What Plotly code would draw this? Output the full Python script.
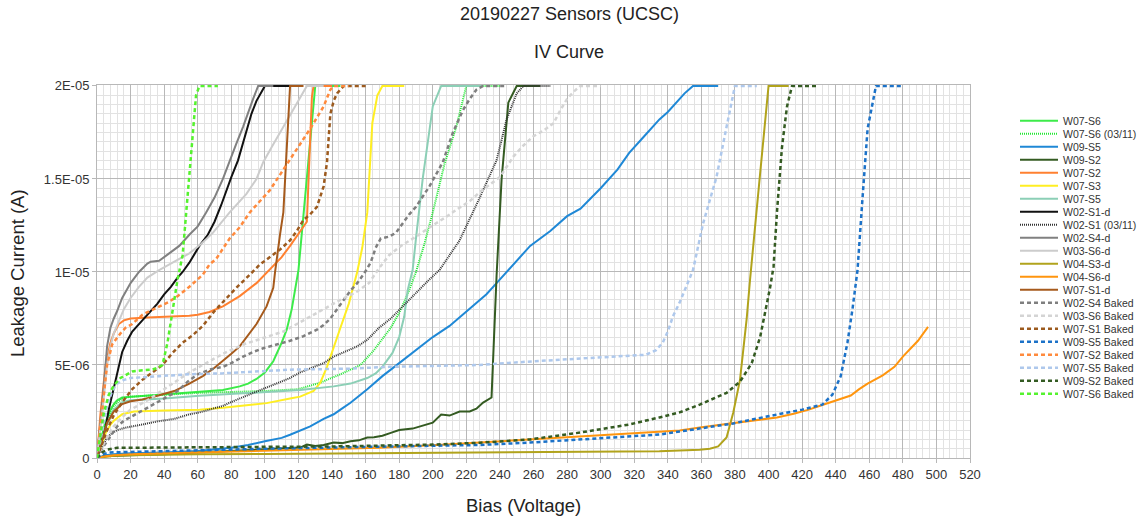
import numpy as np
import plotly.graph_objects as go

# ---- IV data: bias (V) and leakage current (uA) per sensor ----
w07_s6_v = [0, 2, 5, 8, 10, 12, 15, 30, 45, 60, 75, 85, 90, 95, 100, 105, 110, 113, 116, 120, 125, 130, 145]
w07_s6_i = [0, 0.9, 1.9, 2.6, 2.9, 3.1, 3.25, 3.35, 3.45, 3.55, 3.65, 3.85, 4.0, 4.25, 4.6, 5.2, 6.2, 6.9, 8.0, 10.1, 15.0, 20, 20]

w07_s6_0311_v = [0, 5, 10, 15, 20, 40, 60, 80, 100, 120, 133, 145, 157, 165, 170, 175, 180, 185, 190, 195, 200, 207, 214, 220, 240]
w07_s6_0311_i = [0, 1.8, 2.8, 3.2, 3.3, 3.4, 3.5, 3.55, 3.6, 3.7, 4.05, 4.5, 5.0, 5.8, 6.4, 7.0, 7.8, 8.8, 10.0, 11.5, 13.2, 15.8, 17.8, 20, 20]

w09_s5_v = [0, 5, 10, 20, 40, 60, 80, 90, 100, 110, 115, 120, 127, 135, 141, 145, 151, 161, 170, 180, 190, 200, 210, 216,
            224, 232, 238, 244, 250, 258, 270, 280, 288, 300, 310, 317, 325, 335, 340, 345, 350, 355, 370]
w09_s5_i = [0, 0.15, 0.2, 0.25, 0.3, 0.37, 0.55, 0.7, 0.9, 1.08, 1.25, 1.45, 1.7, 2.1, 2.35, 2.6, 2.97, 3.7, 4.4, 5.1, 5.8, 6.5, 7.1, 7.55,
            8.2, 8.8, 9.4, 10.0, 10.6, 11.4, 12.2, 13.0, 13.4, 14.5, 15.5, 16.4, 17.2, 18.2, 18.6, 19.1, 19.6, 20, 20]

w09_s2_v = [0, 5, 20, 40, 60, 80, 100, 115, 121, 125, 130, 135, 141, 146, 151, 156, 161, 165, 170, 175, 180, 188, 195, 200,
            205, 210, 216, 222, 226, 230, 235, 238, 241, 243, 245, 250, 264]
w09_s2_i = [0, 0.1, 0.15, 0.2, 0.3, 0.38, 0.45, 0.52, 0.56, 0.72, 0.65, 0.7, 0.83, 0.8, 0.9, 0.95, 1.1, 1.12, 1.2, 1.35, 1.5, 1.58, 1.75, 1.9,
            2.34, 2.28, 2.5, 2.5, 2.65, 2.98, 3.25, 9.8, 15.0, 17.3, 19.1, 20, 20]

w07_s2_v = [0, 2, 5, 8, 10, 13, 16, 20, 30, 46, 55, 60, 67, 75, 85, 95, 105, 110, 115, 121, 125, 128, 129, 140]
w07_s2_i = [0, 2.3, 4.9, 6.2, 6.7, 7.2, 7.4, 7.5, 7.55, 7.6, 7.65, 7.7, 7.85, 8.15, 8.7, 9.4, 10.3, 10.8, 11.4, 12.2, 12.7, 19.4, 20, 20]

w07_s3_v = [0, 3, 5, 8, 10, 15, 22, 40, 61, 75, 95, 101, 115, 121, 129, 133, 137, 141, 145, 150, 155, 158, 161, 164, 167, 170, 183]
w07_s3_i = [0, 0.8, 1.3, 1.8, 2.0, 2.35, 2.5, 2.55, 2.6, 2.7, 2.9, 2.95, 3.2, 3.3, 3.6, 4.05, 4.9, 6.0, 7.0, 8.3, 10.0, 11.3, 13.2, 18.0, 19.5, 20, 20]

w07_s5_v = [0, 5, 10, 15, 20, 40, 61, 80, 100, 121, 141, 151, 161, 166, 170, 176, 180, 183, 185, 188, 190, 194, 200, 205, 230]
w07_s5_i = [0, 1.6, 2.6, 3.0, 3.1, 3.2, 3.35, 3.45, 3.55, 3.65, 3.85, 4.0, 4.3, 4.55, 4.9, 5.65, 6.5, 7.6, 9.0, 10.1, 11.8, 15.0, 18.9, 20, 20]

w02_s1_d_v = [0, 3, 5, 7, 9, 11, 13, 15, 18, 21, 25, 29, 33, 36, 40, 44, 48, 51, 55, 61, 66, 70, 74, 77, 80, 84, 89, 92, 95, 100, 121]
w02_s1_d_i = [0, 0.9, 1.6, 2.6, 3.4, 4.1, 4.9, 5.7, 6.3, 6.8, 7.2, 7.6, 8.0, 8.3, 8.8, 9.2, 9.7, 10.0, 10.5, 11.4, 12.0, 12.7, 13.6, 14.4, 15.1, 16.0, 17.5, 18.5, 19.2, 20, 20]

w02_s1_0311_v = [0, 3, 6, 9, 12, 17, 27, 36, 46, 55, 61, 75, 81, 95, 101, 115, 121, 135, 141, 155, 161, 168, 175, 182, 192, 198,
                 204, 216, 228, 233, 238, 244, 250, 254, 270]
w02_s1_0311_i = [0, 0.6, 1.1, 1.35, 1.5, 1.63, 1.8, 1.97, 2.1, 2.35, 2.45, 2.8, 3.05, 3.55, 3.8, 4.3, 4.6, 5.1, 5.45, 6.0, 6.35, 7.0, 7.5, 8.15, 9.05, 9.6,
                 10.1, 11.7, 14.0, 15.0, 16.0, 18.2, 19.6, 20, 20]

w02_s4_d_v = [0, 2, 4, 6, 8, 10, 12, 15, 20, 25, 30, 32, 37, 43, 49, 55, 60, 65, 70, 75, 79, 83, 87, 90, 93, 96, 105]
w02_s4_d_i = [0, 1.8, 3.8, 6.0, 7.0, 7.5, 7.9, 8.6, 9.4, 10.0, 10.45, 10.55, 10.6, 11.0, 11.4, 12.0, 12.45, 13.2, 14.0, 15.0, 16.0, 16.9, 17.8, 18.6, 19.3, 20, 20]

w03_s6_d_v = [0, 2, 4, 6, 8, 10, 13, 16, 20, 25, 30, 37, 45, 55, 62, 69, 79, 89, 95, 99, 104, 109, 114, 119, 125, 135]
w03_s6_d_i = [0, 1.5, 3.2, 5.0, 6.0, 6.7, 7.4, 8.0, 8.6, 9.2, 9.7, 10.1, 10.5, 11.0, 11.5, 12.1, 13.2, 14.2, 15.0, 15.9, 16.7, 17.5, 18.3, 19.1, 20, 20]

w04_s3_d_v = [0, 5, 10, 20, 40, 60, 100, 150, 200, 250, 300, 335, 359, 365, 370, 375, 379, 383, 387, 389, 395, 400, 412]
w04_s3_d_i = [0, 0.08, 0.12, 0.15, 0.18, 0.2, 0.22, 0.25, 0.28, 0.3, 0.33, 0.36, 0.45, 0.5, 0.62, 1.1, 2.45, 4.2, 7.5, 9.6, 15.3, 20, 20]

w04_s6_d_v = [0, 5, 10, 20, 40, 61, 100, 130, 168, 200, 228, 260, 288, 310, 335, 347, 359, 379, 395, 405, 415, 424, 432, 438,
              443, 449, 454, 459, 468, 475, 480, 484, 489, 495]
w04_s6_d_i = [0, 0.1, 0.15, 0.2, 0.25, 0.3, 0.4, 0.45, 0.55, 0.68, 0.83, 1.0, 1.16, 1.28, 1.4, 1.48, 1.64, 1.86, 2.05, 2.18, 2.38, 2.6, 2.85, 3.04,
              3.2, 3.36, 3.7, 4.0, 4.44, 4.9, 5.45, 5.85, 6.3, 7.05]

w07_s1_d_v = [0, 3, 6, 10, 15, 20, 27, 36, 46, 55, 63, 70, 75, 80, 85, 90, 95, 101, 105, 106, 107, 109, 111, 113, 114, 115, 123]
w07_s1_d_i = [0, 1.0, 1.9, 2.5, 2.9, 3.05, 3.15, 3.35, 3.6, 4.0, 4.4, 4.85, 5.2, 5.6, 6.0, 6.6, 7.2, 8.15, 9.15, 9.95, 10.7, 12.0, 13.2, 16.5, 18.6, 20, 20]

w02_s4_b_v = [0, 3, 6, 9, 12, 16, 20, 28, 36, 42, 48, 54, 60, 67, 75, 80, 87, 93, 99, 107, 115, 123, 131, 135, 139, 143, 147,
              151, 155, 159, 163, 166, 169, 174, 178, 182, 186, 190, 198, 206, 212, 218, 222, 226, 230, 244]
w02_s4_b_i = [0, 0.5, 0.9, 1.3, 1.7, 2.0, 2.2, 2.6, 2.97, 3.3, 3.6, 4.1, 4.5, 4.75, 4.9, 5.1, 5.45, 5.7, 5.9, 6.1, 6.3, 6.55, 6.9, 7.15, 7.5, 8.0, 8.5,
              9.0, 9.4, 9.9, 10.5, 11.3, 11.8, 11.9, 12.1, 12.6, 13.1, 13.5, 14.6, 15.9, 17.5, 18.7, 19.3, 19.8, 20, 20]

w03_s6_b_v = [0, 3, 6, 10, 15, 20, 30, 40, 55, 63, 75, 87, 100, 111, 123, 135, 145, 155, 162, 168, 174, 181, 190, 199, 207,
              215, 222, 228, 234, 240, 248, 254, 260, 266, 272, 276, 280, 284, 288, 300]
w03_s6_b_i = [0, 0.6, 1.1, 1.7, 2.2, 2.6, 3.1, 3.7, 4.6, 5.0, 5.6, 6.1, 6.5, 6.8, 7.4, 8.0, 8.5, 8.95, 9.4, 10.2, 10.9, 11.4, 11.9, 12.45, 12.9,
              13.4, 13.8, 14.3, 14.7, 15.1, 16.2, 16.8, 17.3, 17.6, 18.0, 18.7, 19.3, 19.7, 20, 20]

w07_s1_b_v = [0, 3, 6, 10, 15, 21, 27, 33, 39, 45, 51, 57, 63, 70, 75, 83, 91, 97, 103, 109, 115, 119, 123, 127, 131, 133,
              135, 137, 138, 139, 141, 143, 147, 160]
w07_s1_b_i = [0, 0.8, 1.5, 2.3, 3.0, 3.7, 4.2, 4.6, 5.0, 5.65, 6.2, 6.6, 7.1, 7.9, 8.4, 9.15, 9.85, 10.4, 10.8, 11.2, 11.7, 12.2, 12.8, 13.1, 13.5, 14.0,
              14.6, 15.9, 17.0, 18.5, 19.2, 19.6, 20, 20]

w09_s5_b_v = [0, 3, 8, 20, 40, 60, 80, 100, 130, 168, 200, 228, 258, 288, 317, 335, 347, 359, 379, 399, 420, 432, 438, 443,
              447, 450, 453, 456, 459, 464, 479]
w09_s5_b_i = [0, 0.2, 0.3, 0.33, 0.37, 0.4, 0.45, 0.5, 0.55, 0.6, 0.65, 0.7, 0.83, 1.0, 1.16, 1.26, 1.42, 1.58, 1.86, 2.23, 2.6, 2.87, 3.4, 4.4,
              6.2, 8.0, 10.1, 14.0, 17.7, 20, 20]

w07_s2_b_v = [0, 2, 4, 6, 9, 12, 14, 17, 21, 27, 36, 43, 48, 55, 63, 67, 71, 79, 85, 91, 97, 103, 111, 119, 127, 135, 139, 141, 150]
w07_s2_b_i = [0, 1.8, 3.6, 5.0, 6.1, 6.5, 6.7, 7.0, 7.2, 7.7, 8.1, 8.4, 8.7, 9.2, 9.85, 10.4, 10.7, 11.8, 12.4, 13.2, 13.8, 14.4, 15.5, 16.6, 17.7, 18.9, 19.8, 20, 20]

w07_s5_b_v = [0, 3, 6, 9, 12, 16, 20, 37, 55, 75, 115, 150, 174, 200, 228, 260, 288, 310, 327, 333, 337, 340, 343, 347, 351,
              355, 361, 369, 375, 380, 393]
w07_s5_b_i = [0, 1.5, 2.8, 3.6, 4.0, 4.2, 4.3, 4.4, 4.5, 4.55, 4.75, 4.8, 4.9, 4.95, 5.0, 5.2, 5.35, 5.45, 5.55, 5.8, 6.2, 6.8, 7.6, 8.35, 9.2,
              10.1, 12.6, 15.1, 17.8, 20, 20]

w09_s2_b_v = [0, 3, 6, 12, 20, 40, 62, 100, 140, 168, 200, 228, 258, 288, 317, 335, 347, 359, 368, 375, 383, 390, 395, 398,
              401, 403, 405, 408, 411, 414, 429]
w09_s2_b_i = [0, 0.3, 0.45, 0.55, 0.55, 0.57, 0.6, 0.6, 0.62, 0.65, 0.72, 0.82, 1.0, 1.37, 1.8, 2.18, 2.45, 2.87, 3.2, 3.5, 4.1, 5.1, 6.5, 7.8,
              9.2, 10.3, 13.2, 16.7, 18.9, 20, 20]

w07_s6_b_v = [0, 2, 4, 7, 10, 14, 21, 27, 33, 36, 39, 42, 45, 48, 51, 55, 59, 61, 72]
w07_s6_b_i = [0, 1.2, 2.4, 3.4, 3.9, 4.3, 4.65, 4.72, 4.75, 4.85, 5.0, 6.2, 8.0, 9.6, 10.9, 15.0, 19.5, 20, 20]

# axis ticks
x_ticks = list(range(0, 521, 20))
y_tick_vals = [0, 5e-6, 1e-5, 1.5e-5, 2e-5]
y_tick_text = ["0", "5E-06", "1E-05", "1.5E-05", "2E-05"]

FONT = "Liberation Sans, Arial, sans-serif"
SOLID, FINE_DOT, SHORT_DASH = "solid", "1px,1px", "4px,3px"

# name, bias, current, colour, dash, width
series = [
    ("W07-S6", w07_s6_v, w07_s6_i, "#3deb4a", SOLID, 2),
    ("W07-S6 (03/11)", w07_s6_0311_v, w07_s6_0311_i, "#22e833", FINE_DOT, 2),
    ("W09-S5", w09_s5_v, w09_s5_i, "#1f88d6", SOLID, 2),
    ("W09-S2", w09_s2_v, w09_s2_i, "#345b22", SOLID, 2),
    ("W07-S2", w07_s2_v, w07_s2_i, "#ff8030", SOLID, 2),
    ("W07-S3", w07_s3_v, w07_s3_i, "#ffee22", SOLID, 2),
    ("W07-S5", w07_s5_v, w07_s5_i, "#8ccfb6", SOLID, 2),
    ("W02-S1-d", w02_s1_d_v, w02_s1_d_i, "#111111", SOLID, 2),
    ("W02-S1 (03/11)", w02_s1_0311_v, w02_s1_0311_i, "#333333", FINE_DOT, 2),
    ("W02-S4-d", w02_s4_d_v, w02_s4_d_i, "#808080", SOLID, 2),
    ("W03-S6-d", w03_s6_d_v, w03_s6_d_i, "#cccccc", SOLID, 2),
    ("W04-S3-d", w04_s3_d_v, w04_s3_d_i, "#b1a31c", SOLID, 2),
    ("W04-S6-d", w04_s6_d_v, w04_s6_d_i, "#ff950e", SOLID, 2),
    ("W07-S1-d", w07_s1_d_v, w07_s1_d_i, "#a65a1c", SOLID, 2),
    ("W02-S4 Baked", w02_s4_b_v, w02_s4_b_i, "#7f7f7f", SHORT_DASH, 2.5),
    ("W03-S6 Baked", w03_s6_b_v, w03_s6_b_i, "#d4d4d4", SHORT_DASH, 2.5),
    ("W07-S1 Baked", w07_s1_b_v, w07_s1_b_i, "#9c5a1e", SHORT_DASH, 2.5),
    ("W09-S5 Baked", w09_s5_b_v, w09_s5_b_i, "#1c72c8", SHORT_DASH, 2.5),
    ("W07-S2 Baked", w07_s2_b_v, w07_s2_b_i, "#ff8a3d", SHORT_DASH, 2.5),
    ("W07-S5 Baked", w07_s5_b_v, w07_s5_b_i, "#aec8ec", SHORT_DASH, 2.5),
    ("W09-S2 Baked", w09_s2_b_v, w09_s2_b_i, "#345b22", SHORT_DASH, 2.5),
    ("W07-S6 Baked", w07_s6_b_v, w07_s6_b_i, "#55f22e", SHORT_DASH, 2.5),
]

W, H = 1143, 519
ML, MR, MT, MB = 97, 173, 85, 61
PW, PH = W - ML - MR, H - MT - MB


def px_to_paper(x_px, y_px):
    return (x_px - ML) / PW, (H - MB - y_px) / PH


fig = go.Figure()
for name, v, i, color, dash, width in series:
    fig.add_trace(go.Scatter(
        x=v, y=np.array(i) * 1e-6, name=name, mode="lines",
        line=dict(color=color, width=width, dash=dash),
        showlegend=False, hoverinfo="x+y+name",
    ))

# hand-drawn legend column on the right
shapes, annotations = [], []
for k, (name, v, i, color, dash, width) in enumerate(series):
    row_y = 120.7 + 13.0 * k
    x0, y0 = px_to_paper(1020, row_y)
    x1, _ = px_to_paper(1058, row_y)
    xt, _ = px_to_paper(1061, row_y)
    shapes.append(dict(type="line", xref="paper", yref="paper", x0=x0, x1=x1, y0=y0, y1=y0,
                       line=dict(color=color, width=width, dash=dash)))
    annotations.append(dict(text=name, xref="paper", yref="paper", x=xt, y=y0, xanchor="left",
                            yanchor="middle", showarrow=False, font=dict(size=10.5, color="#333333", family=FONT)))

# titles
for text, cx, cy, size in [("20190227 Sensors (UCSC)", 569, 14, 18),
                           ("IV Curve", 569, 52, 18),
                           ("Bias (Voltage)", 523, 505, 18.5)]:
    ax, ay = px_to_paper(cx, cy)
    annotations.append(dict(text=text, xref="paper", yref="paper", x=ax, y=ay, xanchor="center", yanchor="middle",
                            showarrow=False, font=dict(size=size, color="#222222", family=FONT)))
ax, ay = px_to_paper(17, 273)
annotations.append(dict(text="Leakage Current (A)", xref="paper", yref="paper", x=ax, y=ay, textangle=-90,
                        xanchor="center", yanchor="middle", showarrow=False,
                        font=dict(size=18.5, color="#222222", family=FONT)))

grid_major, grid_minor = "#b8b8b8", "#e2e2e2"
fig.update_layout(
    width=W, height=H, margin=dict(l=ML, r=MR, t=MT, b=MB, autoexpand=False),
    paper_bgcolor="white", plot_bgcolor="white",
    font=dict(family=FONT, color="#333333"),
    shapes=shapes, annotations=annotations,
    xaxis=dict(range=[0, 520], tickvals=x_ticks, ticks="outside", ticklen=4, tickcolor=grid_major,
               showgrid=True, gridcolor=grid_major, gridwidth=1,
               minor=dict(dtick=4, showgrid=True, gridcolor=grid_minor, gridwidth=1),
               showline=True, linecolor=grid_major, mirror=True, zeroline=False,
               tickfont=dict(size=13, color="#333333")),
    yaxis=dict(range=[0, 2.005e-5], tickvals=y_tick_vals, ticktext=y_tick_text, ticks="outside", ticklen=4,
               tickcolor=grid_major, showgrid=True, gridcolor=grid_major, gridwidth=1,
               minor=dict(dtick=5e-7, showgrid=True, gridcolor=grid_minor, gridwidth=1),
               showline=True, linecolor=grid_major, mirror=True, zeroline=False,
               tickfont=dict(size=13, color="#333333")),
)

fig.write_html("out.html")
